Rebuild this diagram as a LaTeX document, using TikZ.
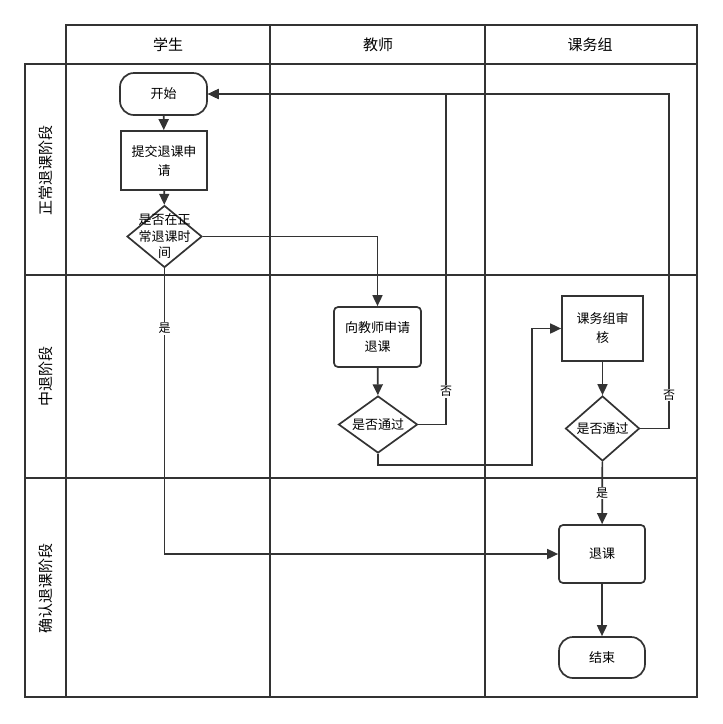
\documentclass[tikz,border=0pt]{standalone}
\usepackage{fontspec}
\setmainfont{Noto Sans CJK SC}
\usepackage{tikz}
\usetikzlibrary{
	shapes.geometric,
	arrows.meta
}

\tikzset{
	lane/.style={line width=2pt,draw=black!80},
	flow/.style={line width=1.7pt,draw=black!80,-{Triangle[length=11pt,width=10pt]}},
	terminal/.style={draw=black!80,line width=1.7pt,rounded corners=14pt,minimum width=87pt,minimum height=42pt,font=\fontsize{13}{15}\selectfont},
	process/.style={draw=black!80,line width=1.7pt,minimum width=86pt,minimum height=59pt,align=center,font=\fontsize{13}{19}\selectfont},
	decision/.style={diamond,draw=black!80,line width=1.7pt,inner sep=0pt,minimum width=75pt,minimum height=62pt},
	inside/.style={align=center,font=\fontsize{13}{16.5}\selectfont},
	tag/.style={fill=white,inner sep=1pt,font=\fontsize{12}{13}\selectfont},
	title/.style={font=\fontsize{15}{17}\selectfont}
}

\begin{document}
\begin{tikzpicture}[x=1pt,y=-1pt]
		\useasboundingbox (0,0) rectangle (723,724);

		% lanes
		\draw[lane] (66,25) rectangle (697,64);
		\draw[lane] (25,64) rectangle (697,697);
		\draw[lane] (66,25) -- (66,697);
		\draw[lane] (270,25) -- (270,697);
		\draw[lane] (485,25) -- (485,697);
		\draw[lane] (25,275) -- (697,275);
		\draw[lane] (25,478) -- (697,478);

		\node[title] (stu) at (168,45) {学生};
		\node[title] (tea) at (378,45) {教师};
		\node[title] (grp) at (590,45) {课务组};
		\node[title,rotate=90] (ph1) at (46,170) {正常退课阶段};
		\node[title,rotate=90] (ph2) at (46,376) {中退阶段};
		\node[title,rotate=90] (ph3) at (46,588) {确认退课阶段};

		% steps
		\node[terminal] (start) at (163.5,94) {开始};
		\node[process] (submit) at (164,160.5) {提交退课申\\请};
		\node[decision,label={[inside]center:是否在正\\常退课时\\间}] (chk) at (164.5,236.5) {};
		\node[process,rounded corners=4pt,minimum width=87pt,minimum height=60pt] (apply) at (377.5,337) {向教师申请\\退课};
		\node[decision,minimum width=79pt,minimum height=57pt,label={[inside]center:是否通过}] (tpass) at (378,424.5) {};
		\node[process,minimum width=81pt,minimum height=65pt] (audit) at (602.5,328.5) {课务组审\\核};
		\node[decision,minimum width=74pt,minimum height=65pt,label={[inside]center:是否通过}] (gpass) at (602.5,428.5) {};
		\node[process,rounded corners=4pt,minimum height=58pt] (quit) at (602,554) {退课};
		\node[terminal,minimum width=86pt,minimum height=41pt] (stop) at (602,657.5) {结束};

		\coordinate (j1) at (532,465);
		\coordinate (j2) at (669,94);
		\coordinate (j3) at (446,94);

		% connectors
		\draw[flow] (start) -- (submit);
		\draw[flow] (submit) -- (chk);
		\draw[flow] (chk.east) -| (apply.north);
		\draw[flow] (apply) -- (tpass);
		\draw[flow] (tpass.east) -| node[tag,pos=0.55] {否} (j3) -- (start.east);
		\draw[flow] (tpass.south) |- (j1) |- (audit.west);
		\draw[flow] (audit) -- (gpass);
		\draw[flow] (gpass.east) -| node[tag,pos=0.55] {否} (j2) -- (start.east);
		\draw[flow] (gpass) -- node[tag] {是} (quit);
		\draw[flow] (chk.south) |- node[tag,pos=0.105] {是} (quit.west);
		\draw[flow] (quit) -- (stop);
	\end{tikzpicture}
\end{document}
